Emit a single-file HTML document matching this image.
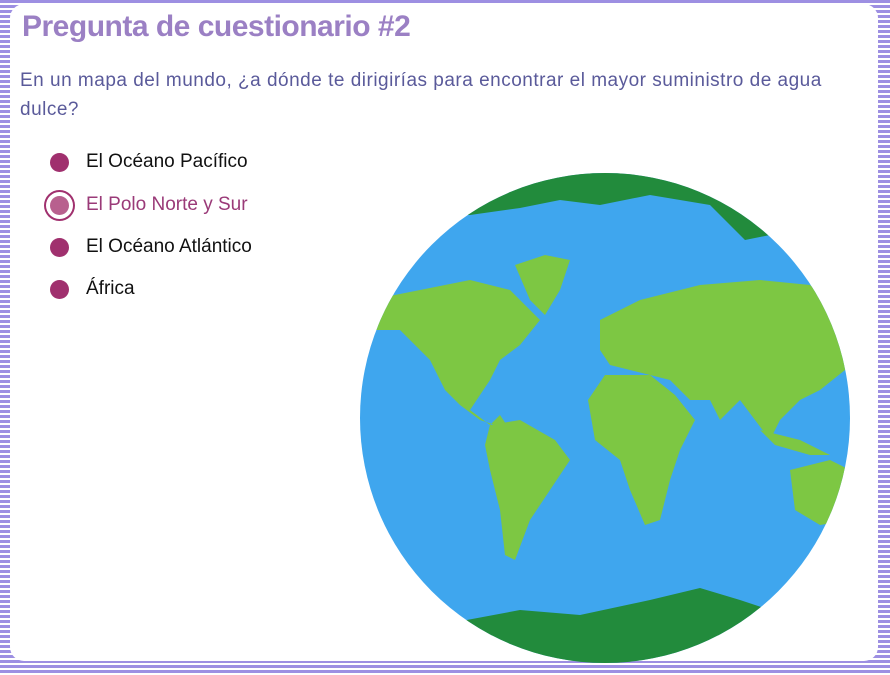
<!DOCTYPE html>
<html><head><meta charset="utf-8"><style>
html,body{margin:0;padding:0}
body{width:890px;height:675px;overflow:hidden;position:relative;
background:repeating-linear-gradient(180deg,#9d8fe2 0 3px,#ffffff 3px 5px);}
.card{position:absolute;left:10px;top:4px;width:868px;height:657px;background:#fff;border-radius:14px;}
h1{position:absolute;left:12px;top:6px;margin:0;font:bold 30px "Liberation Sans",sans-serif;color:#9b80c4;letter-spacing:-0.5px}
.q{position:absolute;left:10px;top:62px;width:835px;margin:0;font:19px/29px "Liberation Sans",sans-serif;color:#5a5a9a;letter-spacing:0.5px}
.opt{position:absolute;left:40px;font:19px "Liberation Sans",sans-serif;color:#111;display:flex;align-items:center}
.dot{width:19px;height:19px;border-radius:50%;background:#a0306e;margin-right:17px}
.sel{color:#9a3a78}
.sel .dot{background:#b8608e;box-shadow:0 0 0 4px #fff,0 0 0 6px #a0306e}
</style></head><body>
<div class="card">
<h1>Pregunta de cuestionario #2</h1>
<p class="q">En un mapa del mundo, ¿a dónde te dirigirías para encontrar el mayor suministro de agua dulce?</p>
<div class="opt" style="top:147px"><span class="dot"></span>El Océano Pacífico</div>
<div class="opt sel" style="top:190px"><span class="dot"></span>El Polo Norte y Sur</div>
<div class="opt" style="top:232px"><span class="dot"></span>El Océano Atlántico</div>
<div class="opt" style="top:274px"><span class="dot"></span>África</div>
</div>
<svg width="890" height="675" style="position:absolute;left:0;top:0">
<defs><clipPath id="c"><circle cx="605" cy="418" r="245"/></clipPath></defs>
<circle cx="605" cy="418" r="245" fill="#3fa6ee"/>
<g clip-path="url(#c)">
<path fill="#228b3c" d="M440 150 L780 150 L770 235 L745 240 L710 205 L650 195 L600 205 L560 200 L520 208 L470 215 L440 215 Z"/>
<path fill="#228b3c" d="M440 700 L440 625 L520 610 L580 615 L650 600 L700 588 L740 600 L770 610 L770 700 Z"/>
<path fill="#7dc743" d="M370 300 L420 290 L470 280 L510 290 L540 320 L520 345 L500 360 L490 380 L480 395 L470 410 L490 425 L500 415 L510 430 L480 420 L460 405 L445 390 L430 360 L400 330 L375 330 Z"/>
<path fill="#7dc743" d="M515 265 L545 255 L570 260 L560 290 L545 315 L530 300 Z"/>
<path fill="#7dc743" d="M490 425 L520 420 L555 440 L570 460 L550 490 L530 520 L515 560 L505 555 L500 510 L490 470 L485 445 Z"/>
<path fill="#7dc743" d="M600 320 L640 300 L700 285 L760 280 L810 285 L840 310 L845 370 L820 390 L800 400 L780 420 L770 440 L755 420 L740 400 L720 420 L710 400 L690 400 L670 380 L650 375 L630 370 L610 365 L600 350 Z"/>
<path fill="#7dc743" d="M605 375 L650 375 L675 395 L695 420 L680 450 L670 480 L660 520 L645 525 L630 490 L620 460 L595 440 L588 400 Z"/>
<path fill="#7dc743" d="M790 470 L830 460 L850 470 L850 520 L820 525 L795 510 Z"/>
<path fill="#7dc743" d="M760 430 L800 440 L830 455 L810 455 L775 445 Z"/>
</g>
</svg>
</body></html>
